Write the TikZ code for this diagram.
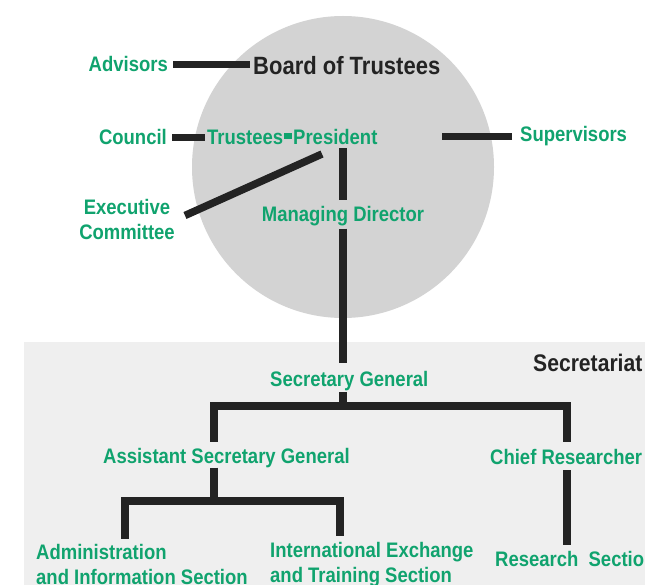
\documentclass[tikz,border=0pt]{standalone}
\usepackage{fontspec}
\setmainfont{Liberation Sans}[FakeStretch=0.88]
\definecolor{orggreen}{RGB}{16,163,110}
\definecolor{orgdark}{RGB}{35,35,35}
\definecolor{circlegray}{RGB}{211,211,211}
\definecolor{panelgray}{RGB}{239,239,239}

\begin{document}
\begin{tikzpicture}[x=1pt,y=-1pt,
    lbl/.style={text=orggreen, inner sep=0pt, font=\fontsize{21}{25}\selectfont\bfseries},
    head/.style={text=orgdark, inner sep=0pt, font=\fontsize{25}{28}\selectfont\bfseries},
    link/.style={draw=orgdark, line width=7.5pt},]
\useasboundingbox (0,0) rectangle (645,585);
\fill[panelgray] (24,342) rectangle (645,585);
\fill[circlegray] (343,167) circle (151pt);

\node[head, anchor=base west] (board) at (253,75) {Board of Trustees};
\node[lbl, anchor=base east] (adv) at (168,72) {Advisors};
\node[lbl, anchor=base east] (coun) at (167,145) {Council};
\node[lbl, anchor=base west] (tp) at (207,145) {Trustees\hspace{1pt}\rule[6pt]{8pt}{6pt}\hspace{1pt}President};
\node[lbl, anchor=base west] (sup) at (520,142) {Supervisors};
\node[lbl, anchor=base, align=center] (exec) at (127,240) {Executive\\Committee};
\node[lbl, anchor=base] (md) at (343,222) {Managing Director};

\node[head, anchor=base west, font=\fontsize{24}{28}\selectfont\bfseries] (secr) at (533,371) {Secretariat};
\node[lbl, anchor=base west] (sg) at (270,386) {Secretary General};
\node[lbl, anchor=base west] (asg) at (103,463) {Assistant Secretary General};
\node[lbl, anchor=base west] (chief) at (490,464) {Chief Researcher};
\node[lbl, anchor=base west, align=left] (admin) at (36,584) {Administration\\and Information Section};
\node[lbl, anchor=base west, align=left] (intl) at (270,582) {International Exchange\\and Training Section};
\node[lbl, anchor=base west] (res) at (495,566) {Research\ \ Section};

\coordinate (bodyright) at (442,136);
\coordinate (presfoot) at (322,154);
\coordinate (sgfork) at (343,406);
\coordinate (asgfork) at (214,501);

\draw[link, shorten <=5pt, shorten >=3pt] (adv.east) -- (adv.east -| board.west);
\draw[link, shorten <=5pt, shorten >=2pt] (coun.east) -- (coun.east -| tp.west);
\draw[link, shorten <=8pt] (sup.west) -- (sup.west -| bodyright);
\draw[link, shorten <=11pt] (exec.east) -- (presfoot);
\draw[link, shorten <=3pt, shorten >=7pt] (md.north |- tp.south) -- (md.north);
\draw[link, shorten <=2pt, shorten >=8pt] (md.south) -- (md.south |- sg.north);

\draw[link, shorten <=1.5pt] (sg.south -| sgfork) -- (sgfork);
\draw[link, shorten >=6pt] (sgfork) -| ([xshift=111pt]asg.north west);
\draw[link, shorten >=7pt] (sgfork) -| ([xshift=77pt]chief.north west);
\draw[link] ([xshift=111pt]asg.south west) -- (asgfork);
\draw[link, shorten >=5pt] (asgfork) -| ([xshift=89pt]admin.north west);
\draw[link, shorten >=6pt] (asgfork) -| ([xshift=70pt]intl.north west);
\draw[link, shorten <=6pt, shorten >=6pt] ([xshift=77pt]chief.south west) -- ([xshift=77pt]chief.south west |- res.north);
\end{tikzpicture}
\end{document}
